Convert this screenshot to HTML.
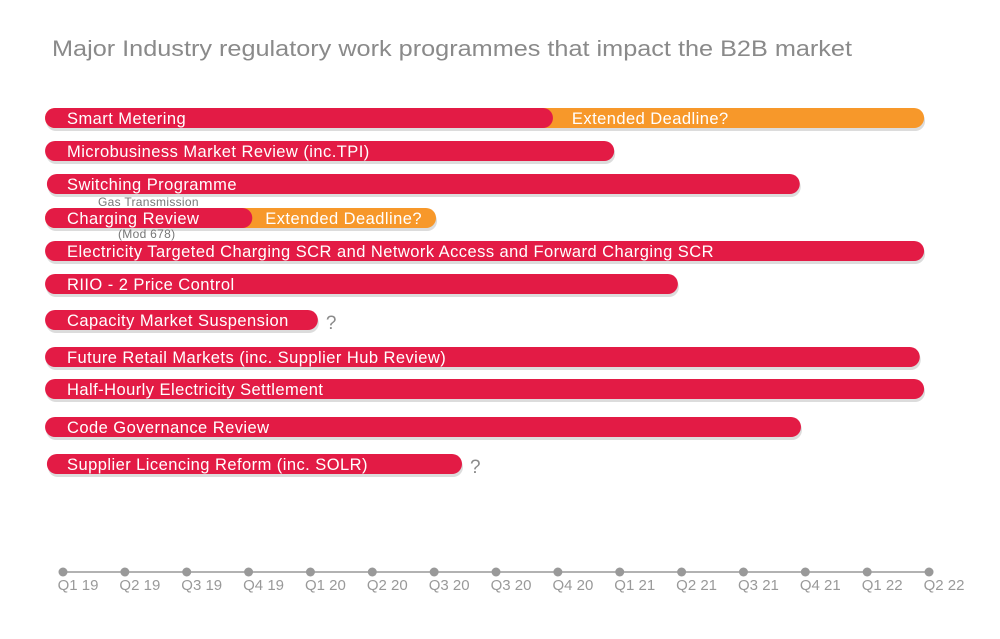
<!DOCTYPE html>
<html><head><meta charset="utf-8">
<style>
html,body{margin:0;padding:0;background:#fff;}
svg{display:block;font-family:"Liberation Sans",sans-serif;}
</style></head>
<body>
<svg id="chart" width="1000" height="639" viewBox="0 0 1000 639">
<text x="52" y="56" font-size="22" fill="#8a8a8a" textLength="800" lengthAdjust="spacingAndGlyphs">Major Industry regulatory work programmes that impact the B2B market</text>
<g id="bars"></g>
<g id="axis"></g>
</svg>
<script>
const quarters = ["Q1 19","Q2 19","Q3 19","Q4 19","Q1 20","Q2 20","Q3 20","Q3 20","Q4 20","Q1 21","Q2 21","Q3 21","Q4 21","Q1 22","Q2 22"];
const programmes = ["Smart Metering","Microbusiness Market Review (inc.TPI)","Switching Programme","Charging Review","Electricity Targeted Charging SCR and Network Access and Forward Charging SCR","RIIO - 2 Price Control","Capacity Market Suspension","Future Retail Markets (inc. Supplier Hub Review)","Half-Hourly Electricity Settlement","Code Governance Review","Supplier Licencing Reform (inc. SOLR)"];
const starts = [-0.29,-0.29,-0.26,-0.29,-0.29,-0.29,-0.29,-0.29,-0.29,-0.29,-0.26];
const ends = [7.92,8.91,11.91,3.06,13.92,9.94,4.12,13.85,13.92,11.93,6.45];
const extendedEnds = [13.92,null,null,6.03,null,null,null,null,null,null,null];
const uncertain = [false,false,false,false,false,false,true,false,false,false,true];
const rowY = [118,151,184,218,251,284,320,357,389,427,464];

const NS="http://www.w3.org/2000/svg";
const x0=63, step=61.86, barH=20;
function xScale(q){return x0+q*step;}
function mk(tag,attrs,parent){const e=document.createElementNS(NS,tag);for(const k in attrs)e.setAttribute(k,attrs[k]);parent.appendChild(e);return e;}
const bars=document.getElementById('bars');
const axis=document.getElementById('axis');

programmes.forEach((name,i)=>{
  const y=rowY[i]-barH/2;
  const xs=xScale(starts[i]);
  const g=mk('g',{},bars);
  
  
  const fullEnd = extendedEnds[i]!==null? xScale(extendedEnds[i]) : xScale(ends[i]);
  const sh=mk('rect',{x:xs+1,y:y+3,width:fullEnd-xs,height:barH,rx:10,fill:'#dcdcdc'},g);
  
  
  if(extendedEnds[i]!==null){
    const xe=xScale(extendedEnds[i]);
    const o=mk('rect',{x:xs,y:y,width:xe-xs,height:barH,rx:10,fill:'#f7982a'},g);
    
    
    const ot=mk('text',{x:xScale(ends[i])+(i===0?19:13),y:rowY[i]+6,'font-size':16.5,'letter-spacing':0.45,fill:'#fff'},g);
    ot.textContent='Extended Deadline?';
    
    
  }
  const xe=xScale(ends[i]);
  const r=mk('rect',{x:xs,y:y,width:xe-xs,height:barH,rx:10,fill:'#e31b45'},g);
  
  
  const t=mk('text',{x:67,y:rowY[i]+6,'font-size':16.5,'letter-spacing':0.45,fill:'#fff'},g);
  t.textContent=name;
  
  
  if(uncertain[i]){
    const q=mk('text',{x:xe+8,y:rowY[i]+9,'font-size':19,fill:'#8a8a8a'},g);
    q.textContent='?';
    
    
  }
});
const n1=mk('text',{x:98,y:206,'font-size':12,'letter-spacing':0.3,fill:'#777'},bars);
n1.textContent='Gas Transmission';


const n2=mk('text',{x:118,y:238,'font-size':12,'letter-spacing':0.3,fill:'#777'},bars);
n2.textContent='(Mod 678)';



const al=mk('line',{x1:xScale(0),x2:xScale(quarters.length-1),y1:572,y2:572,stroke:'#999','stroke-width':1.5},axis);


quarters.forEach((q,i)=>{
  const x=xScale(i);
  const c=mk('circle',{cx:x,cy:572,r:4.5,fill:'#999'},axis);
  
  
  const t=mk('text',{x:x+15,y:590,'font-size':15,fill:'#999','text-anchor':'middle'},axis);
  t.textContent=q;
  
  
});
</script>
</body></html>
